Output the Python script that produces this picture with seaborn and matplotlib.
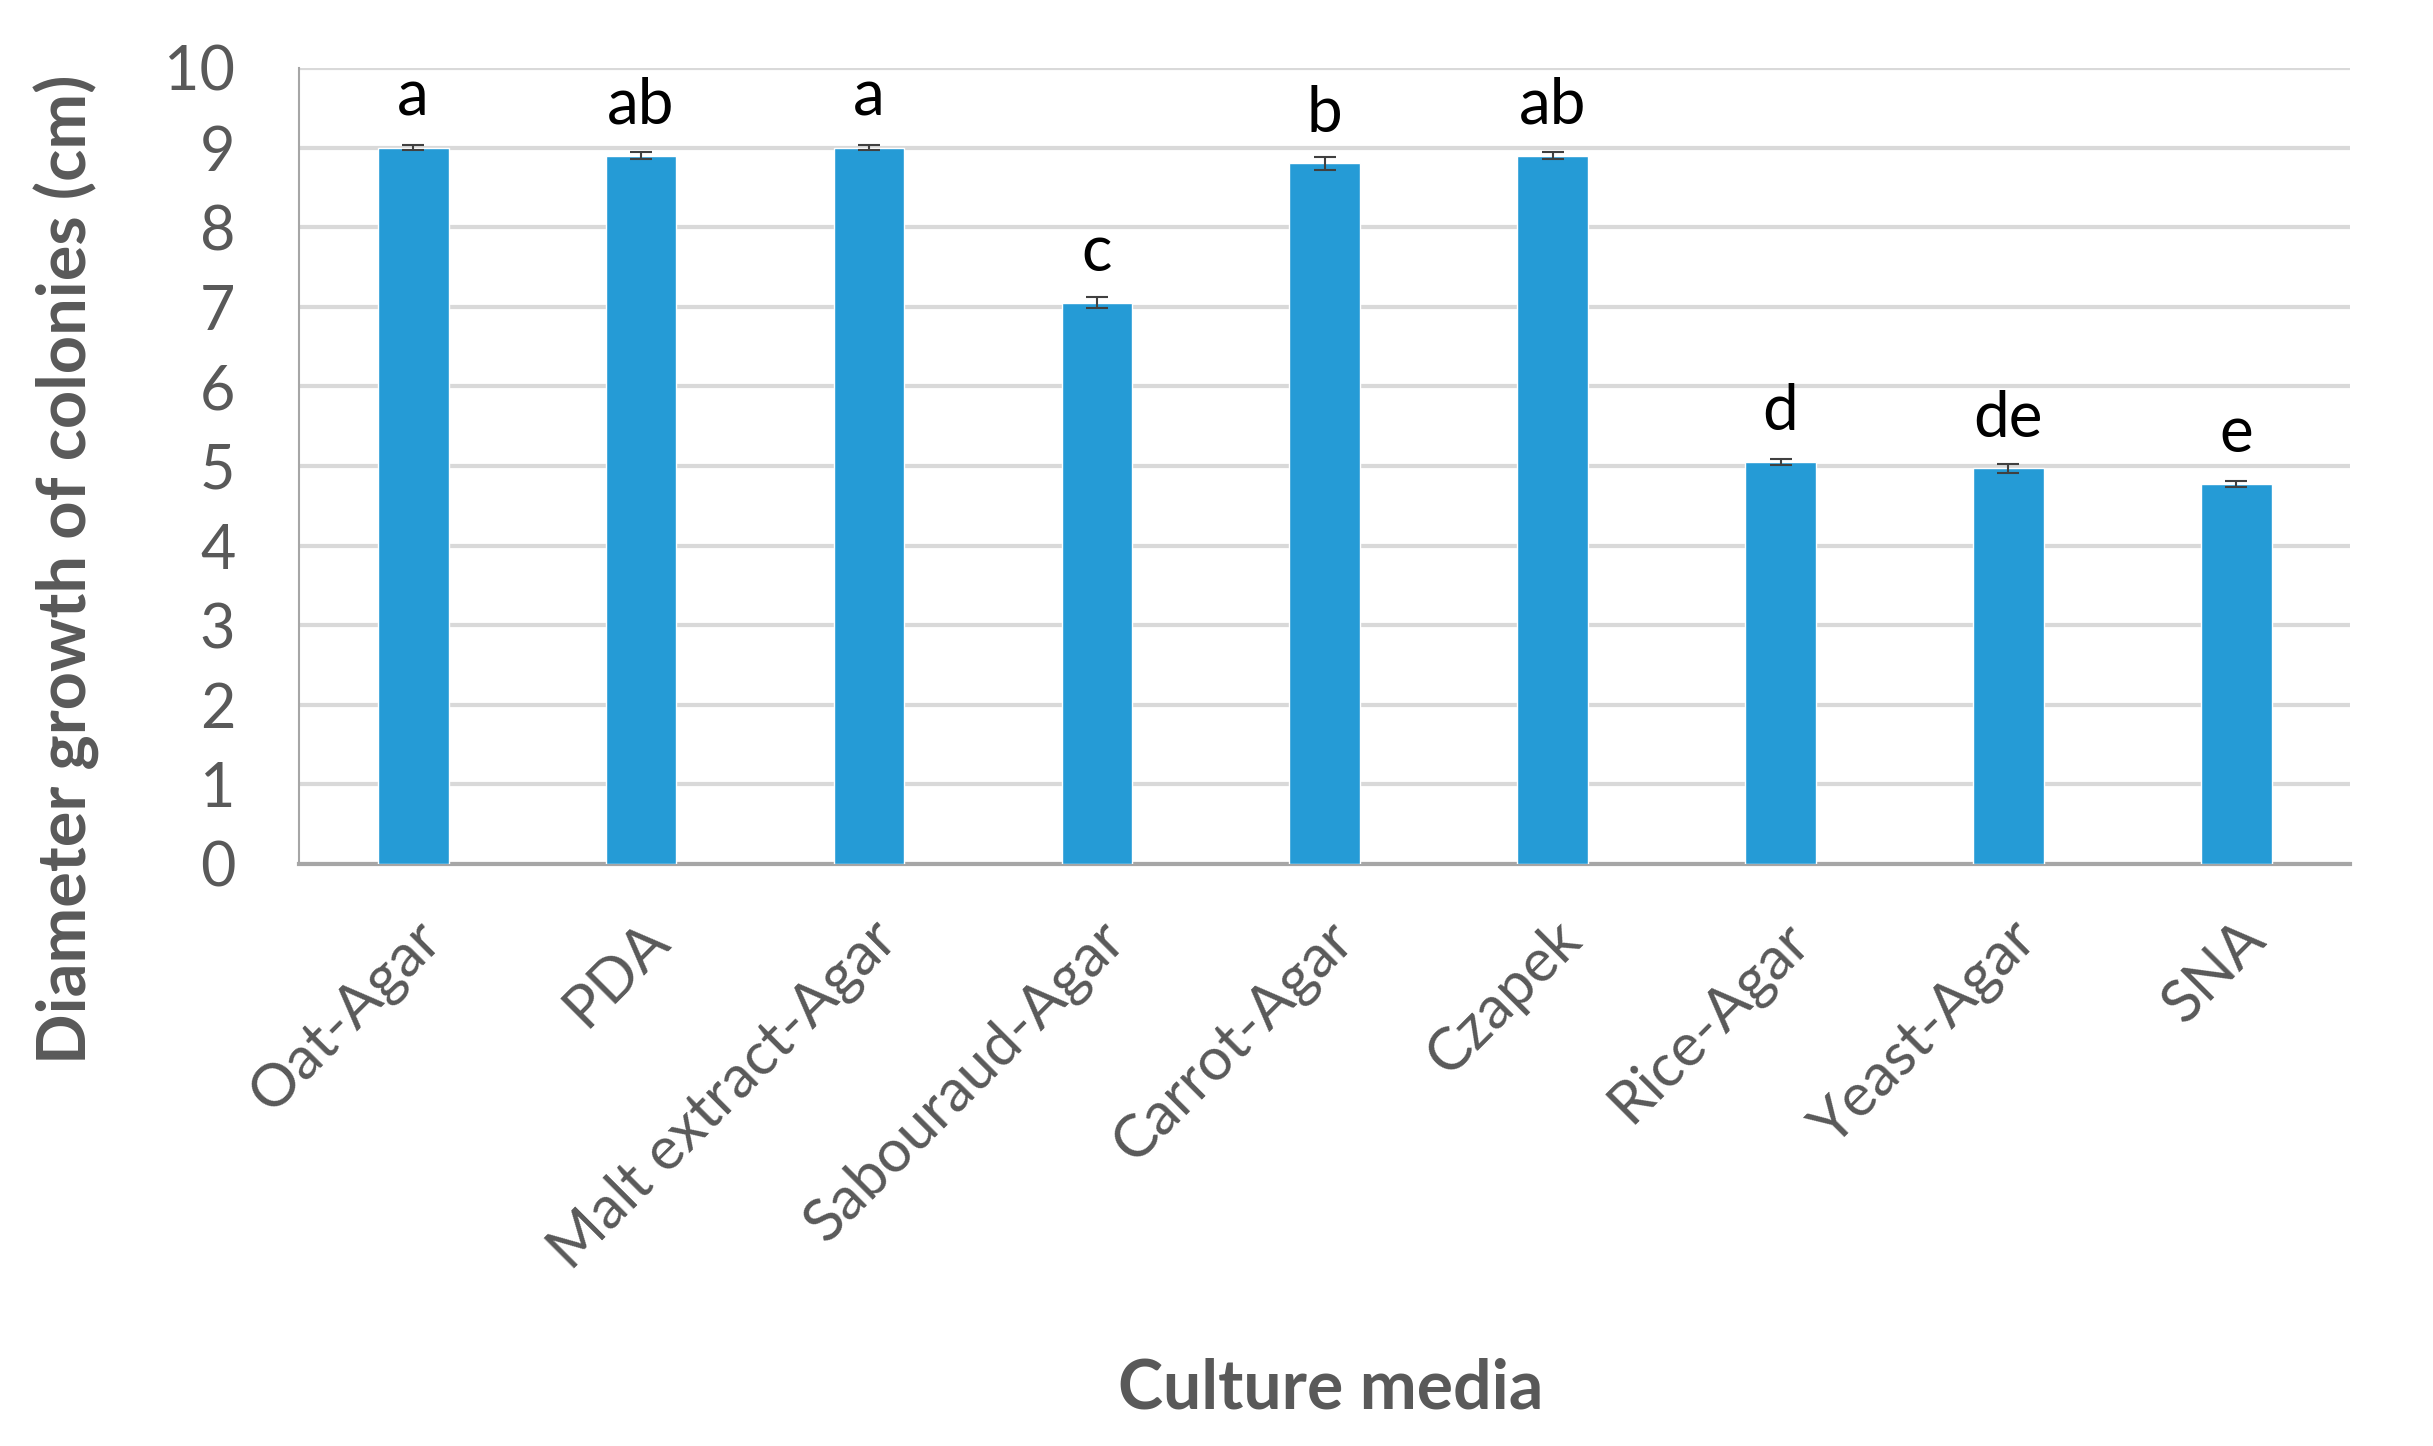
import pandas as pd
import matplotlib.pyplot as plt
import seaborn as sns

# values
media = ["Oat-Agar", "PDA", "Malt extract-Agar", "Sabouraud-Agar", "Carrot-Agar",
         "Czapek", "Rice-Agar", "Yeast-Agar", "SNA"]
diameter = [9.0, 8.9, 9.0, 7.05, 8.8, 8.9, 5.05, 4.97, 4.77]
std_err = [0.03, 0.04, 0.03, 0.07, 0.08, 0.04, 0.04, 0.06, 0.04]
letters = ["a", "ab", "a", "c", "b", "ab", "d", "de", "e"]

df = pd.DataFrame({"media": media, "diameter": diameter, "se": std_err})

sns.set_style("white")
plt.rcParams['font.family'] = ['Lato', 'DejaVu Sans']

fig = plt.figure(figsize=(24.33, 14.46), dpi=100)
ax = fig.add_axes([0.123, 0.4025, 0.843, 0.5505])

sns.barplot(data=df, x="media", y="diameter", color="#259BD6", width=0.31,
            saturation=1, errorbar=None, ax=ax, zorder=3)
ax.errorbar(range(len(media)), df["diameter"], yerr=df["se"], fmt="none",
            ecolor="#404040", elinewidth=1.5, capsize=8, capthick=1.5, zorder=4)

for i, (v, lab) in enumerate(zip(diameter, letters)):
    ax.text(i, v + 0.4, lab, ha="center", va="baseline", fontsize=46, color="black")

ax.set_ylim(0, 10)
ax.set_xlim(-0.5, len(media) - 0.5)
ax.set_yticks(range(0, 11))
ax.yaxis.grid(True, color="#D9D9D9", linewidth=3, zorder=0)
ax.set_axisbelow(True)

for s in ["top", "right"]:
    ax.spines[s].set_visible(False)
ax.spines["left"].set_color("#A6A6A6")
ax.spines["left"].set_linewidth(1.5)
ax.spines["bottom"].set_color("#A6A6A6")
ax.spines["bottom"].set_linewidth(3)

ax.tick_params(axis="y", labelsize=44, labelcolor="#595959", length=0, pad=46)
ax.tick_params(axis="x", labelsize=43, labelcolor="#595959", length=0, pad=34)
plt.setp(ax.get_xticklabels(), rotation=45, ha="right", rotation_mode="anchor")

ax.set_ylabel("Diameter growth of colonies (cm)", fontsize=48, fontweight="bold",
              color="#595959")
ax.yaxis.set_label_coords(-0.097, 0.37)
ax.set_xlabel("Culture media", fontsize=49, fontweight="bold", color="#595959")
ax.xaxis.set_label_coords(0.503, -0.62)

fig.savefig("out.png", dpi=100, facecolor="white")
